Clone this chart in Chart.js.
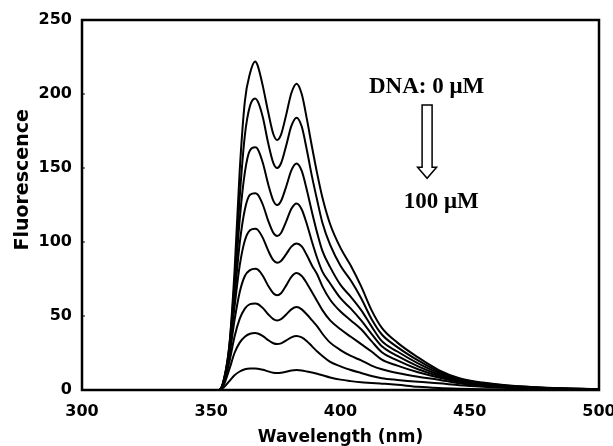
<!DOCTYPE html>
<html>
<head>
<meta charset="utf-8">
<script src="https://cdn.jsdelivr.net/npm/chart.js@4.4.1/dist/chart.umd.min.js"></script>
<style>
  html, body { margin: 0; padding: 0; background: #fff; }
  canvas { display: block; }
</style>
</head>
<body>
<canvas id="spectra" width="613" height="446"></canvas>
<script>
// Longitudes de onda (nm)
const wavelengths = [350, 353, 355, 357, 359, 361, 363, 365, 367, 368, 370, 372, 374, 375.5, 377, 379, 381, 383,
  385, 387, 389, 391, 393, 396, 400, 404, 408, 412, 416, 422, 430, 438, 446, 455, 465, 480, 500];

// Espectros de fluorescencia, DNA 0 µM (arriba) a 100 µM (abajo)
const curve1 = [0, 0, 8, 30, 80, 148, 195, 214, 222, 219, 205, 188, 173, 169, 172.6, 186, 200.7, 207,
  200, 183, 164, 146, 130, 112, 96, 84, 70, 54, 42, 32, 22, 13.5, 8, 5, 3, 1.5, 0.5];
const curve2 = [0, 0, 8, 30, 73, 130, 172, 192, 197, 195, 184, 167, 153.5, 150, 153.2, 165.2, 178.4, 184,
  178, 162, 144, 128, 113, 98, 84, 74, 62, 48, 37.5, 29, 20, 12.5, 7.5, 4.7, 2.8, 1.4, 0.5];
const curve3 = [0, 0, 7, 28, 68, 115, 147, 162, 164, 162.7, 153.2, 139.2, 128, 125, 127.7, 137.5, 148.4, 153,
  148, 135, 120, 106, 94, 83, 71, 63, 54, 43, 33, 26, 18, 11.5, 7, 4.4, 2.6, 1.3, 0.4];
const curve4 = [0, 0, 7, 27, 62, 99, 122, 132, 133, 132, 125, 114.5, 106.2, 104, 106.1, 113.9, 122.4, 126,
  122, 112, 100, 89, 80, 72, 62, 55, 47, 38, 29.5, 23, 16, 10.5, 6.5, 4.1, 2.4, 1.2, 0.4];
const curve5 = [0, 0, 7, 26, 56, 84, 101, 108, 109, 108.2, 102.6, 94.3, 87.7, 86, 87.2, 91.8, 96.9, 99,
  97, 91, 84, 78, 70, 61, 53, 47, 41, 33, 25.5, 20, 14, 9.5, 6, 3.8, 2.2, 1.1, 0.3];
const curve6 = [0, 0, 6, 23, 47, 66, 77, 81, 82, 81.4, 77, 70.5, 65.4, 64, 65.4, 70.7, 76.5, 79,
  77, 72, 66, 60, 54, 47, 41, 36, 31, 26, 20.5, 16.5, 12, 8.5, 5.5, 3.5, 2, 1, 0.3];
const curve7 = [0, 0, 5, 19, 36, 48, 55, 58, 58.5, 58.1, 55.3, 51.2, 47.9, 47, 47.9, 51, 54.5, 56,
  54.5, 51, 47, 43, 38, 32, 27, 23, 20, 16.5, 14, 11.5, 9, 7, 4.5, 3, 1.8, 0.9, 0.2];
const curve8 = [0, 0, 4, 14, 25, 32, 36, 38, 38.5, 38.2, 36.4, 33.7, 31.6, 31, 31.5, 33.5, 35.6, 36.5,
  35.5, 33, 29.5, 26, 23, 19, 16, 13.5, 11.5, 9.5, 8, 6.8, 5.5, 4.5, 3.2, 2.2, 1.4, 0.7, 0.2];
const curve9 = [0, 0, 2, 6, 10, 12.5, 14, 14.5, 14.5, 14.4, 13.7, 12.6, 11.7, 11.5, 11.7, 12.4, 13.2, 13.5,
  13.2, 12.5, 11.8, 11, 10, 8.5, 7, 6, 5.2, 4.8, 4.3, 3.5, 2.2, 1.4, 0.9, 0.5, 0.3, 0.1, 0];

const curves = [curve1, curve2, curve3, curve4, curve5, curve6, curve7, curve8, curve9];

// Ejes
const xTicks = [300, 350, 400, 450, 500];
const yTicks = [0, 50, 100, 150, 200, 250];

// Textos de la anotación (posiciones en unidades de datos)
const noteTop = 'DNA: 0 μM';
const noteBottom = '100 μM';
const noteTopPos = [411, 200.5];
const noteBottomPos = [424.5, 123];
const arrowPos = { x: 433.5, top: 192.5, neck: 150.5, tip: 143 };
const yTitlePos = 142;

const sansBold = { family: '"DejaVu Sans", sans-serif', weight: 'bold' };

// Marco y anotaciones
const frameAndNotes = {
    id: 'frameAndNotes',
    afterDraw(chart) {
        const { ctx, chartArea: a, scales: { x, y } } = chart;
        ctx.save();
        ctx.strokeStyle = '#000';
        ctx.fillStyle = '#000';
        ctx.lineWidth = 2.5;
        ctx.strokeRect(a.left, a.top, a.right - a.left, a.bottom - a.top);

        // pequeñas marcas hacia dentro en el eje Y
        ctx.lineWidth = 1;
        yTicks.slice(1, -1).forEach(v => {
            const py = y.getPixelForValue(v);
            ctx.beginPath();
            ctx.moveTo(a.left, py);
            ctx.lineTo(a.left + 3, py);
            ctx.stroke();
        });

        // título del eje Y
        ctx.save();
        ctx.translate(23, y.getPixelForValue(yTitlePos));
        ctx.rotate(-Math.PI / 2);
        ctx.font = 'bold 19px "DejaVu Sans", sans-serif';
        ctx.textAlign = 'center';
        ctx.textBaseline = 'middle';
        ctx.fillText('Fluorescence', 0, 0);
        ctx.restore();

        // textos
        ctx.font = 'bold 23px "Liberation Serif", serif';
        ctx.textAlign = 'left';
        ctx.textBaseline = 'alphabetic';
        ctx.fillText(noteTop, x.getPixelForValue(noteTopPos[0]), y.getPixelForValue(noteTopPos[1]));
        ctx.fillText(noteBottom, x.getPixelForValue(noteBottomPos[0]), y.getPixelForValue(noteBottomPos[1]));

        // flecha hueca
        const cx = x.getPixelForValue(arrowPos.x);
        const top = y.getPixelForValue(arrowPos.top);
        const neck = y.getPixelForValue(arrowPos.neck);
        const tip = y.getPixelForValue(arrowPos.tip);
        ctx.lineWidth = 1.5;
        ctx.beginPath();
        ctx.moveTo(cx - 5, top);
        ctx.lineTo(cx + 5, top);
        ctx.lineTo(cx + 5, neck);
        ctx.lineTo(cx + 9.5, neck);
        ctx.lineTo(cx, tip);
        ctx.lineTo(cx - 9.5, neck);
        ctx.lineTo(cx - 5, neck);
        ctx.closePath();
        ctx.stroke();
        ctx.restore();
    }
};

document.addEventListener('DOMContentLoaded', function() {
    const ctx = document.getElementById('spectra');

    new Chart(ctx, {
        type: 'line',
        data: {
            datasets: curves.map(c => ({
                data: wavelengths.map((w, i) => ({ x: w, y: c[i] })),
                borderColor: '#000',
                borderWidth: 2,
                pointRadius: 0,
                fill: false,
                cubicInterpolationMode: 'monotone'
            }))
        },
        options: {
            responsive: false,
            animation: false,
            devicePixelRatio: 1,
            layout: { padding: { top: 20, right: 14, left: 0, bottom: 0 } },
            plugins: {
                legend: { display: false },
                tooltip: { enabled: false }
            },
            scales: {
                x: {
                    type: 'linear',
                    min: xTicks[0],
                    max: xTicks[xTicks.length - 1],
                    afterBuildTicks: s => { s.ticks = xTicks.map(v => ({ value: v })); },
                    ticks: { color: '#000', padding: 4, maxRotation: 0, font: { ...sansBold, size: 16 } },
                    grid: { display: false },
                    border: { display: false },
                    title: {
                        display: true,
                        text: 'Wavelength (nm)',
                        color: '#000',
                        padding: { top: 0, bottom: 0 },
                        font: { ...sansBold, size: 17, lineHeight: 1 }
                    },
                    afterFit: s => { s.height = 56; s.paddingLeft = 0; s.paddingRight = 0; }
                },
                y: {
                    min: yTicks[0],
                    max: yTicks[yTicks.length - 1],
                    afterBuildTicks: s => { s.ticks = yTicks.map(v => ({ value: v })); },
                    ticks: { color: '#000', padding: 2, font: { ...sansBold, size: 16 } },
                    grid: { display: false },
                    border: { display: false },
                    afterFit: s => { s.width = 82; s.paddingTop = 0; s.paddingBottom = 0; }
                }
            }
        },
        plugins: [frameAndNotes]
    });
});
</script>
</body>
</html>
